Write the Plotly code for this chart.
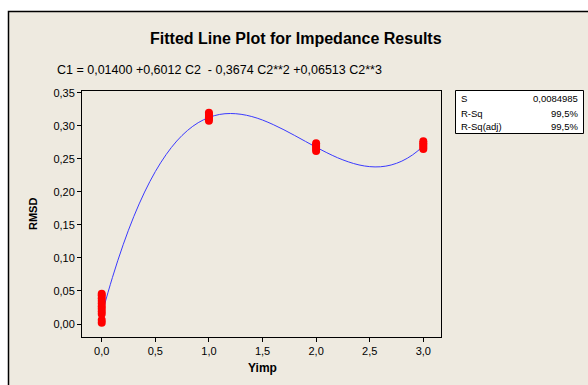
import plotly.graph_objects as go

x_obs_0 = [0, 0, 0, 0, 0, 0, 0, 0, 0, 0, 0]
y_obs_0 = [0.002, 0.006, 0.015, 0.019, 0.023, 0.027, 0.031, 0.035, 0.039, 0.043, 0.046]
x_obs_1 = [1, 1, 1, 1, 1, 1]
y_obs_1 = [0.308, 0.311, 0.313, 0.315, 0.318, 0.320]
x_obs_2 = [2, 2, 2, 2, 2]
y_obs_2 = [0.262, 0.265, 0.268, 0.271, 0.274]
x_obs_3 = [3, 3, 3, 3, 3]
y_obs_3 = [0.265, 0.268, 0.271, 0.274, 0.277]

# Fitted curve points
fit_x = [0.0, 0.1, 0.2, 0.3, 0.4, 0.5, 0.6, 0.7, 0.8, 0.9, 1.0, 1.1, 1.2, 1.3, 1.4, 1.5,
         1.6, 1.7, 1.8, 1.9, 2.0, 2.1, 2.2, 2.3, 2.4, 2.5, 2.6, 2.7, 2.8, 2.9, 3.0]
fit_y = [0.014, 0.0705, 0.1201, 0.1631, 0.1999, 0.2309, 0.2565, 0.2772, 0.2932, 0.3050,
         0.3129, 0.3175, 0.3189, 0.3177, 0.3143, 0.3090, 0.3021, 0.2942, 0.2856, 0.2767,
         0.2678, 0.2595, 0.2519, 0.2457, 0.2410, 0.2384, 0.2382, 0.2409, 0.2468, 0.2562, 0.2695]

x_ticks = [0.0, 0.5, 1.0, 1.5, 2.0, 2.5, 3.0]
y_ticks = [0.00, 0.05, 0.10, 0.15, 0.20, 0.25, 0.30, 0.35]

stat_labels = ["S", "R-Sq", "R-Sq(adj)"]
stat_values = ["0,0084985", "99,5%", "99,5%"]

title_text = "Fitted Line Plot for Impedance Results"
equation_text = "C1 = 0,01400 +0,6012 C2  - 0,3674 C2**2 +0,06513 C2**3"

BG = "#EEEAE0"
W, H = 588, 385
L, R, T, B = 82, 441, 91, 337
pw, ph = R - L, B - T


def px(xp):
    return (xp - L) / pw


def py(yp):
    return (B - yp) / ph


fig = go.Figure()
fig.add_trace(go.Scatter(x=fit_x, y=fit_y, mode="lines", line=dict(color="#3A3AFF", width=1, shape="spline"),
                         hoverinfo="skip", showlegend=False))
for xs, ys in [(x_obs_0, y_obs_0), (x_obs_1, y_obs_1), (x_obs_2, y_obs_2), (x_obs_3, y_obs_3)]:
    fig.add_trace(go.Scatter(x=xs, y=ys, mode="markers", marker=dict(color="#FF0000", size=8),
                             showlegend=False))

shapes = [
    # outer beige frame
    dict(type="rect", xref="paper", yref="paper", x0=px(8.5), x1=px(640), y0=py(440), y1=py(11.5),
         fillcolor=BG, line=dict(color="black", width=1.5), layer="below"),
    # stats box
    dict(type="rect", xref="paper", yref="paper", x0=px(455.5), x1=px(583.5), y0=py(133.5), y1=py(90.5),
         fillcolor="white", line=dict(color="black", width=1), layer="above"),
]

annotations = [
    dict(text="<b>" + title_text + "</b>", xref="paper", yref="paper", x=px(296), y=py(38),
         showarrow=False, font=dict(family="Liberation Sans", size=16, color="black"), xanchor="center", yanchor="middle"),
    dict(text=equation_text, xref="paper", yref="paper", x=px(55), y=py(70),
         showarrow=False, font=dict(family="Liberation Sans", size=12.5, color="black"), xanchor="left", yanchor="middle"),
    dict(text="<b>RMSD</b>", xref="paper", yref="paper", x=px(33), y=py(214), textangle=-90,
         showarrow=False, font=dict(family="Liberation Sans", size=11, color="black"), xanchor="center", yanchor="middle"),
    dict(text="<b>Yimp</b>", xref="paper", yref="paper", x=px(262), y=py(368),
         showarrow=False, font=dict(family="Liberation Sans", size=12, color="black"), xanchor="center", yanchor="middle"),
]
rows_y = [99, 113, 126]
for lab, val, yy in zip(stat_labels, stat_values, rows_y):
    annotations.append(dict(text=lab, xref="paper", yref="paper", x=px(459), y=py(yy), showarrow=False,
                            font=dict(family="Liberation Sans", size=9.5, color="black"), xanchor="left", yanchor="middle"))
    annotations.append(dict(text=val, xref="paper", yref="paper", x=px(580), y=py(yy), showarrow=False,
                            font=dict(family="Liberation Sans", size=9.5, color="black"), xanchor="right", yanchor="middle"))

fig.update_layout(
    width=W, height=H,
    margin=dict(l=L, r=W - R, t=T, b=H - B, pad=0),
    paper_bgcolor="white",
    plot_bgcolor="white",
    separators=",.",
    shapes=shapes,
    annotations=annotations,
    font=dict(family="Liberation Sans", size=11, color="black"),
    xaxis=dict(range=[-0.184, 3.165], tickvals=x_ticks, tickformat=".1f", showgrid=False, zeroline=False,
               showline=True, linecolor="black", linewidth=1, mirror=True, ticks="outside", ticklen=4,
               tickcolor="black", tickfont=dict(size=11)),
    yaxis=dict(range=[-0.0197, 0.353], tickvals=y_ticks, tickformat=".2f", showgrid=False, zeroline=False,
               showline=True, linecolor="black", linewidth=1, mirror=True, ticks="outside", ticklen=4,
               tickcolor="black", tickfont=dict(size=11)),
)

fig.write_html("out.html")
